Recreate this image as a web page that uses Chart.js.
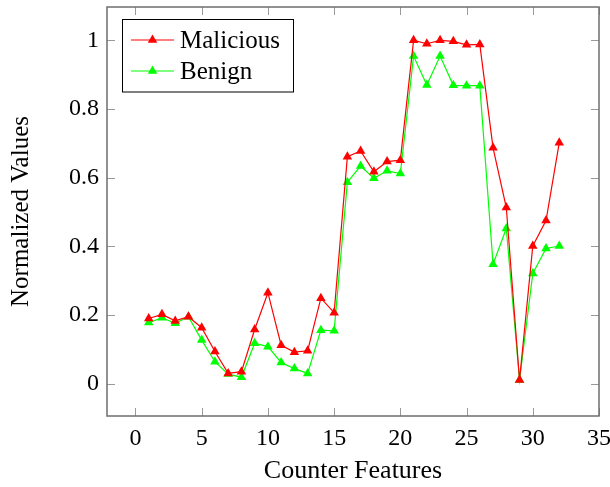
<!DOCTYPE html>
<html>
<head>
<meta charset="utf-8">
<script src="https://cdn.jsdelivr.net/npm/chart.js@4/dist/chart.umd.min.js"></script>
<style>
  html, body { margin: 0; padding: 0; background: #fff; }
  #wrap { width: 610px; height: 487px; position: relative; }
</style>
</head>
<body>
<div id="wrap"><canvas id="c" width="610" height="487"></canvas></div>
<script>
const features = [1,2,3,4,5,6,7,8,9,10,11,12,13,14,15,16,17,18,19,20,21,22,23,24,25,26,27,28,29,30,31,32];
const malicious = [0.190,0.202,0.183,0.195,0.163,0.094,0.030,0.035,0.158,0.265,0.112,0.092,0.096,0.249,0.207,
  0.661,0.678,0.617,0.647,0.651,1.000,0.990,1.000,0.997,0.987,0.988,0.687,0.513,0.011,0.401,0.475,0.702];
const benign = [0.178,0.192,0.176,0.195,0.127,0.064,0.028,0.019,0.118,0.108,0.062,0.044,0.030,0.156,0.154,
  0.587,0.634,0.598,0.620,0.612,0.954,0.870,0.954,0.869,0.868,0.868,0.348,0.452,0.011,0.321,0.394,0.401];
const seriesNames = ['Malicious', 'Benign'];
const xTitle = 'Counter Features';
const yTitle = 'Normalized Values';

const FONT = "'Liberation Serif', 'Times New Roman', serif";

const frameTicks = {
  id: 'frameTicks',
  afterDraw(chart) {
    const {ctx, chartArea: a, scales: {x, y}} = chart;
    ctx.save();
    const L = 8;
    ctx.strokeStyle = '#9a9a9a';
    ctx.lineWidth = 1;
    ctx.beginPath();
    x.ticks.forEach(t => {
      const px = Math.round(x.getPixelForValue(t.value)) + 0.5;
      ctx.moveTo(px, a.bottom); ctx.lineTo(px, a.bottom - L);
      ctx.moveTo(px, a.top); ctx.lineTo(px, a.top + L);
    });
    y.ticks.forEach(t => {
      const py = Math.round(y.getPixelForValue(t.value)) + 0.5;
      ctx.moveTo(a.left, py); ctx.lineTo(a.left + L, py);
      ctx.moveTo(a.right, py); ctx.lineTo(a.right - L, py);
    });
    ctx.stroke();
    ctx.strokeStyle = '#6e6e6e';
    ctx.lineWidth = 1.5;
    ctx.strokeRect(a.left, a.top, a.right - a.left, a.bottom - a.top);

    // legend
    const bx = 122.5, by = 19.5, bw = 171, bh = 72.5;
    ctx.fillStyle = '#fff';
    ctx.fillRect(bx, by, bw, bh);
    ctx.strokeStyle = '#000';
    ctx.lineWidth = 1;
    ctx.strokeRect(bx, by, bw, bh);
    chart.data.datasets.forEach((ds, i) => {
      const cy = 40 + i * 31;
      ctx.strokeStyle = ds.borderColor;
      ctx.lineWidth = 1.2;
      ctx.beginPath();
      ctx.moveTo(131, cy); ctx.lineTo(174, cy);
      ctx.stroke();
      ctx.fillStyle = ds.backgroundColor;
      const r = 5.5;
      ctx.beginPath();
      ctx.moveTo(152.5, cy - r);
      ctx.lineTo(152.5 + r * Math.sin(2*Math.PI/3), cy - r * Math.cos(2*Math.PI/3));
      ctx.lineTo(152.5 + r * Math.sin(4*Math.PI/3), cy - r * Math.cos(4*Math.PI/3));
      ctx.closePath();
      ctx.fill();
      ctx.fillStyle = '#000';
      ctx.font = "25px " + FONT;
      ctx.textBaseline = 'middle';
      ctx.textAlign = 'left';
      ctx.fillText(ds.label, 180, cy + 1);
    });
    ctx.restore();
  }
};

new Chart(document.getElementById('c'), {
  type: 'line',
  data: {
    datasets: [
      {
        label: seriesNames[0],
        data: features.map((f, i) => ({x: f, y: malicious[i]})),
        borderColor: '#ff0000', backgroundColor: '#ff0000',
        borderWidth: 1.2, pointStyle: 'triangle', pointRadius: 5.5,
        pointBorderWidth: 0, tension: 0
      },
      {
        label: seriesNames[1],
        data: features.map((f, i) => ({x: f, y: benign[i]})),
        borderColor: '#00ff00', backgroundColor: '#00ff00',
        borderWidth: 1.2, pointStyle: 'triangle', pointRadius: 5.5,
        pointBorderWidth: 0, tension: 0
      }
    ]
  },
  options: {
    responsive: false,
    animation: false,
    devicePixelRatio: 1,
    layout: { padding: { top: 7, right: 11, left: 0, bottom: 0 } },
    plugins: { legend: { display: false }, tooltip: { enabled: false } },
    scales: {
      x: {
        type: 'linear', min: -2.15, max: 35,
        afterFit(s) { s.height = 71; s.paddingLeft = 0; s.paddingRight = 0; },
        border: { display: false },
        grid: { display: false, drawTicks: false },
        ticks: { stepSize: 5, includeBounds: false, padding: 8, color: '#000',
                 font: { family: FONT, size: 24 }, maxRotation: 0 },
        title: { display: true, text: xTitle, color: '#000',
                 font: { family: FONT, size: 26 }, padding: { top: 0, bottom: 0 } }
      },
      y: {
        type: 'linear', min: -0.094, max: 1.097,
        afterFit(s) { s.width = 107; s.paddingTop = 0; s.paddingBottom = 0; },
        border: { display: false },
        grid: { display: false, drawTicks: false },
        ticks: { stepSize: 0.2, includeBounds: false, padding: 8, color: '#000',
                 font: { family: FONT, size: 24 },
                 callback: v => String(parseFloat(v.toFixed(2))) },
        title: { display: true, text: yTitle, color: '#000',
                 font: { family: FONT, size: 25 }, padding: { top: 6, bottom: 0 } }
      }
    }
  },
  plugins: [frameTicks]
});
</script>
</body>
</html>
